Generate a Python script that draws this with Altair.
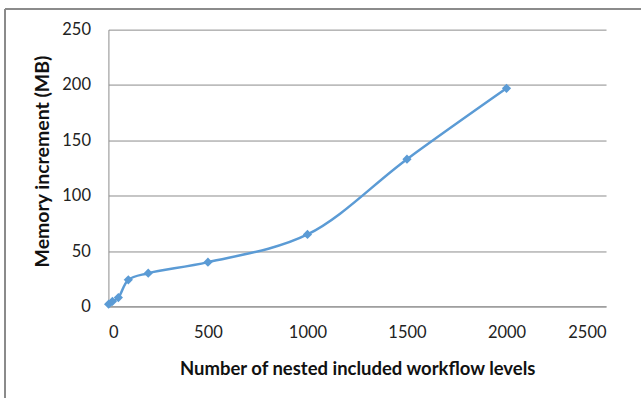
import altair as alt
import pandas as pd

# Nesting depth vs. measured memory increment
levels = [1, 20, 50, 100, 200, 500, 1000, 1500, 2000]
memory_mb = [2, 4.5, 8, 24, 30, 40, 65, 133, 197]

x_ticks = [0, 500, 1000, 1500, 2000, 2500]
y_ticks = [0, 50, 100, 150, 200, 250]

df = pd.DataFrame({"levels": levels, "memory": memory_mb})

BLUE = "#5B9BD5"
GRID = "#8c8c8c"
FONT = "Lato"

x_enc = alt.X(
    "levels:Q",
    scale=alt.Scale(domain=[0, 2500], nice=False),
    axis=alt.Axis(
        values=x_ticks,
        format="d",
        title="Number of nested included workflow levels",
        titleFontSize=18.5,
        grid=False,
        ticks=False,
        domain=True,
        domainColor=GRID,
        labelPadding=18,
        titlePadding=19,
    ),
)
y_enc = alt.Y(
    "memory:Q",
    scale=alt.Scale(domain=[0, 250], nice=False),
    axis=alt.Axis(
        values=y_ticks,
        format="d",
        title="Memory increment (MB)",
        titleFontSize=19.5,
        titleY=131.5,
        grid=True,
        gridColor=GRID,
        gridWidth=1,
        ticks=False,
        domain=True,
        domainColor=GRID,
        labelPadding=18,
        titlePadding=9,
    ),
)

line = alt.Chart(df).mark_line(
    color=BLUE,
    strokeWidth=2.5,
    interpolate="catmull-rom",
    point=alt.OverlayMarkDef(shape="diamond", size=85, filled=True, color=BLUE),
).encode(x=x_enc, y=y_enc)

# Chart frame drawn around the whole figure
frame = alt.Chart(df).mark_rect(
    fill=None, stroke="#8c8c8c", strokeWidth=1, clip=False
).encode(
    x=alt.value(-103.5), x2=alt.value(700),
    y=alt.value(-20.5), y2=alt.value(400),
)

chart = alt.layer(frame, line).properties(
    width=498,
    height=277,
    background="white",
    autosize=alt.AutoSizeParams(type="none"),
    padding={"left": 108.5, "top": 29.5, "right": 35, "bottom": 92},
).configure_view(
    stroke=None
).configure_axis(
    labelFont=FONT,
    titleFont=FONT,
    labelFontSize=16.5,
    labelColor="#222222",
    titleColor="#111111",
    titleFontWeight="bold",
)

chart.save("out.html", embed_options={"renderer": "svg", "actions": False})
